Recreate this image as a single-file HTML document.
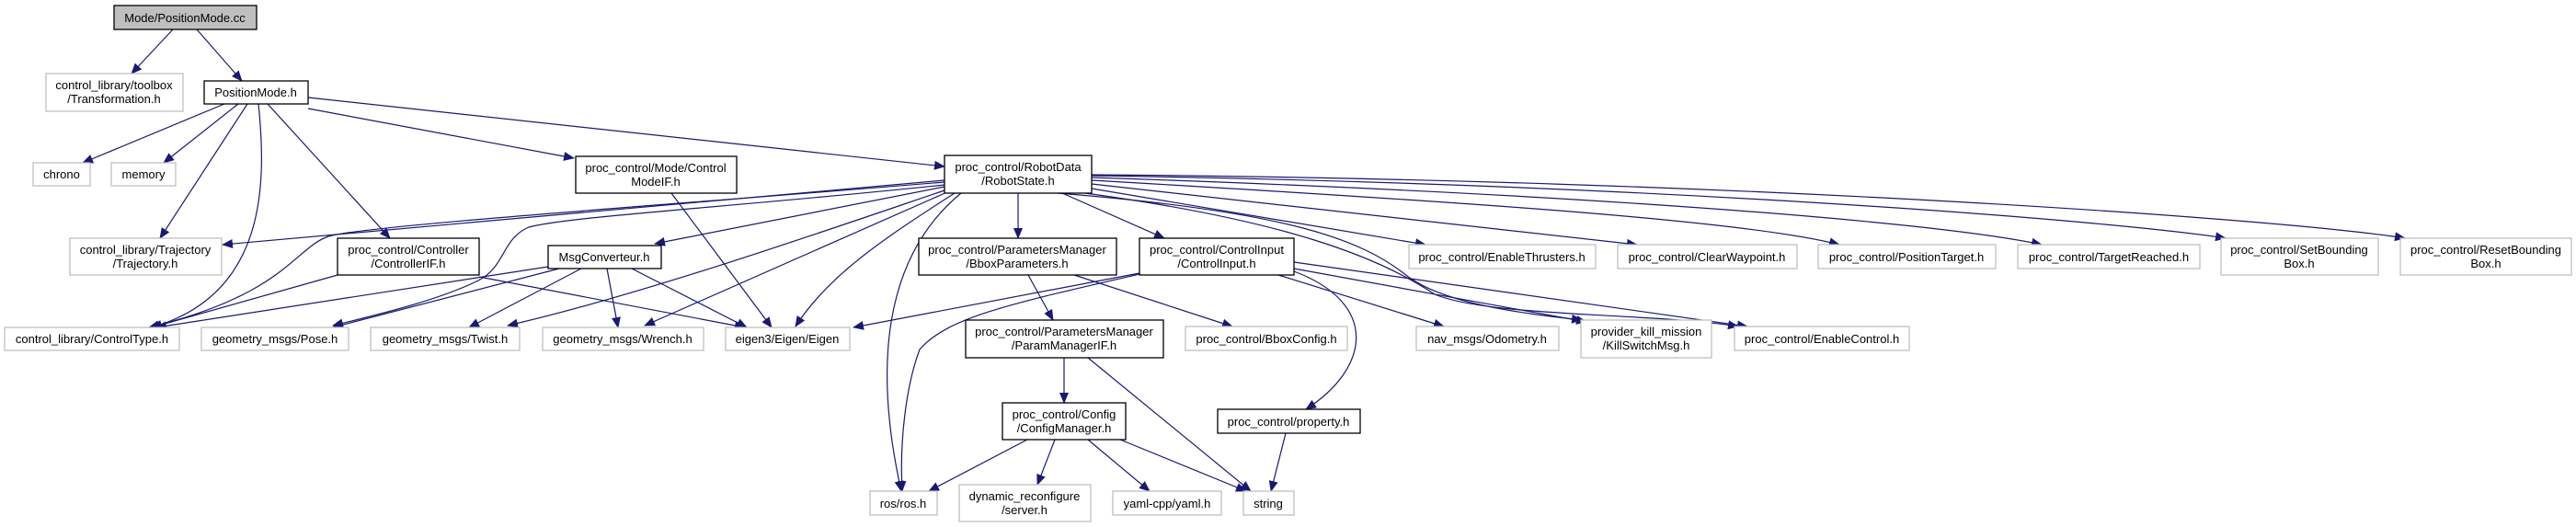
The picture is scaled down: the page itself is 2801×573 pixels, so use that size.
<!DOCTYPE html>
<html><head><meta charset="utf-8"><style>
html,body{margin:0;padding:0;background:#fff;}
svg{display:block;}
text{font-family:"Liberation Sans",sans-serif;font-size:13px;fill:#000;text-anchor:middle;}
.d{fill:#fff;stroke:#000;stroke-width:1.3;}
.u{fill:#fff;stroke:#bfbfbf;stroke-width:1.3;}
.e{fill:none;stroke:#191970;stroke-width:1.2;marker-end:url(#a);}
</style></head><body>
<svg width="2801" height="573" viewBox="0 0 2801 573" xmlns="http://www.w3.org/2000/svg">
<defs><marker id="a" markerWidth="12" markerHeight="10" refX="11" refY="5" orient="auto" markerUnits="userSpaceOnUse"><path d="M0,0 L12,5 L0,10 z" fill="#191970"/></marker></defs>
<!-- edges -->
<path class="e" d="M188,32 L143,80"/>
<path class="e" d="M214,32 L263,88"/>
<path class="e" d="M244,113 L90,177"/>
<path class="e" d="M259,113 L178,177"/>
<path class="e" d="M269,113 L174,259"/>
<path class="e" d="M281,113 C290,200 290,320 165,356"/>
<path class="e" d="M291,113 L424,259"/>
<path class="e" d="M335,118 L624,172"/>
<path class="e" d="M335,106 L1027,181"/>
<path class="e" d="M730,210 L839,356"/>
<path class="e" d="M367,299 L165,356"/>
<path class="e" d="M521,301 L810,356"/>
<path class="e" d="M596,290 L170,356"/>
<path class="e" d="M608,292 L362,356"/>
<path class="e" d="M632,292 L510,356"/>
<path class="e" d="M660,292 L672,356"/>
<path class="e" d="M687,292 L812,356"/>
<path class="e" d="M1027,196 L242,266"/>
<path class="e" d="M1027,198 C700,225 400,245 357,257 C320,270 310,320 162,356"/>
<path class="e" d="M1027,201 C800,225 620,235 575,247 C545,260 550,290 520,305 C480,325 420,340 362,354"/>
<path class="e" d="M1030,206 C900,250 700,320 552,354"/>
<path class="e" d="M1027,203 L712,265"/>
<path class="e" d="M1032,208 L701,354"/>
<path class="e" d="M1038,210 C960,260 900,300 865,355"/>
<path class="e" d="M1045,210 C960,280 950,400 980,534"/>
<path class="e" d="M1107,210 L1107,259"/>
<path class="e" d="M1155,210 L1266,259"/>
<path class="e" d="M1187,205 L1550,266"/>
<path class="e" d="M1187,200 L1780,266"/>
<path class="e" d="M1187,196 C1600,220 1900,240 2000,266"/>
<path class="e" d="M1187,193 C1700,210 2100,240 2220,266"/>
<path class="e" d="M1187,191 C1800,200 2300,240 2420,259"/>
<path class="e" d="M1187,190 C1900,195 2500,240 2615,259"/>
<path class="e" d="M1150,210 C1400,230 1480,260 1530,300 C1570,330 1650,340 1720,348"/>
<path class="e" d="M1180,210 C1400,240 1500,280 1560,320 C1620,345 1800,340 1890,355"/>
<path class="e" d="M1239,297 L928,356"/>
<path class="e" d="M1239,298 C1100,330 1030,345 1000,380 C985,420 978,480 981,534"/>
<path class="e" d="M1390,299 L1570,355"/>
<path class="e" d="M1407,292 L1725,350"/>
<path class="e" d="M1407,285 L1900,355"/>
<path class="e" d="M1407,295 C1500,330 1490,400 1420,445"/>
<path class="e" d="M1118,299 L1145,348"/>
<path class="e" d="M1168,299 L1340,355"/>
<path class="e" d="M1157,389 L1157,438"/>
<path class="e" d="M1183,389 L1360,534"/>
<path class="e" d="M1117,478 L1010,534"/>
<path class="e" d="M1147,478 L1128,527"/>
<path class="e" d="M1183,478 L1250,534"/>
<path class="e" d="M1218,478 L1355,534"/>
<path class="e" d="M1398,471 L1382,534"/>
<!-- nodes -->
<rect x="124" y="6" width="155" height="26" fill="#bfbfbf" stroke="#000" stroke-width="1.3"/><text x="201" y="24">Mode/PositionMode.cc</text>
<rect class="u" x="50" y="80" width="149" height="41"/><text x="124" y="97">control_library/toolbox</text><text x="124" y="112">/Transformation.h</text>
<rect class="d" x="222" y="88" width="113" height="25"/><text x="278" y="105">PositionMode.h</text>
<rect class="u" x="36" y="177" width="62" height="25"/><text x="67" y="194">chrono</text>
<rect class="u" x="121" y="177" width="70" height="25"/><text x="156" y="194">memory</text>
<rect class="d" x="626" y="170" width="175" height="40"/><text x="713" y="187">proc_control/Mode/Control</text><text x="713" y="202">ModeIF.h</text>
<rect class="u" x="76" y="259" width="165" height="40"/><text x="158" y="276">control_library/Trajectory</text><text x="158" y="291">/Trajectory.h</text>
<rect class="d" x="367" y="259" width="154" height="40"/><text x="444" y="276">proc_control/Controller</text><text x="444" y="291">/ControllerIF.h</text>
<rect class="d" x="596" y="267" width="123" height="25"/><text x="657" y="284">MsgConverteur.h</text>
<rect class="u" x="5" y="356" width="190" height="25"/><text x="100" y="373">control_library/ControlType.h</text>
<rect class="u" x="219" y="356" width="160" height="25"/><text x="299" y="373">geometry_msgs/Pose.h</text>
<rect class="u" x="403" y="356" width="162" height="25"/><text x="484" y="373">geometry_msgs/Twist.h</text>
<rect class="u" x="590" y="356" width="175" height="25"/><text x="677" y="373">geometry_msgs/Wrench.h</text>
<rect class="u" x="789" y="356" width="135" height="25"/><text x="856" y="373">eigen3/Eigen/Eigen</text>
<rect class="d" x="1027" y="169" width="160" height="41"/><text x="1107" y="186">proc_control/RobotData</text><text x="1107" y="201">/RobotState.h</text>
<rect class="d" x="999" y="259" width="215" height="40"/><text x="1106" y="276">proc_control/ParametersManager</text><text x="1106" y="291">/BboxParameters.h</text>
<rect class="d" x="1239" y="259" width="168" height="40"/><text x="1323" y="276">proc_control/ControlInput</text><text x="1323" y="291">/ControlInput.h</text>
<rect class="u" x="1532" y="266" width="203" height="26"/><text x="1633" y="284">proc_control/EnableThrusters.h</text>
<rect class="u" x="1759" y="266" width="195" height="26"/><text x="1856" y="284">proc_control/ClearWaypoint.h</text>
<rect class="u" x="1977" y="266" width="193" height="26"/><text x="2073" y="284">proc_control/PositionTarget.h</text>
<rect class="u" x="2194" y="266" width="198" height="26"/><text x="2293" y="284">proc_control/TargetReached.h</text>
<rect class="u" x="2415" y="259" width="171" height="40"/><text x="2500" y="276">proc_control/SetBounding</text><text x="2500" y="291">Box.h</text>
<rect class="u" x="2610" y="259" width="186" height="40"/><text x="2703" y="276">proc_control/ResetBounding</text><text x="2703" y="291">Box.h</text>
<rect class="u" x="1289" y="355" width="176" height="26"/><text x="1377" y="373">proc_control/BboxConfig.h</text>
<rect class="d" x="1050" y="348" width="215" height="41"/><text x="1157" y="365">proc_control/ParametersManager</text><text x="1157" y="380">/ParamManagerIF.h</text>
<rect class="u" x="1540" y="355" width="155" height="26"/><text x="1617" y="373">nav_msgs/Odometry.h</text>
<rect class="u" x="1719" y="348" width="142" height="41"/><text x="1790" y="365">provider_kill_mission</text><text x="1790" y="380">/KillSwitchMsg.h</text>
<rect class="u" x="1886" y="355" width="190" height="26"/><text x="1981" y="373">proc_control/EnableControl.h</text>
<rect class="d" x="1090" y="438" width="134" height="40"/><text x="1157" y="455">proc_control/Config</text><text x="1157" y="470">/ConfigManager.h</text>
<rect class="d" x="1324" y="445" width="155" height="26"/><text x="1401" y="463">proc_control/property.h</text>
<rect class="u" x="946" y="534" width="73" height="26"/><text x="982" y="552">ros/ros.h</text>
<rect class="u" x="1043" y="527" width="143" height="40"/><text x="1114" y="544">dynamic_reconfigure</text><text x="1114" y="559">/server.h</text>
<rect class="u" x="1210" y="534" width="118" height="26"/><text x="1269" y="552">yaml-cpp/yaml.h</text>
<rect class="u" x="1352" y="534" width="55" height="26"/><text x="1379" y="552">string</text>
</svg>
</body></html>
